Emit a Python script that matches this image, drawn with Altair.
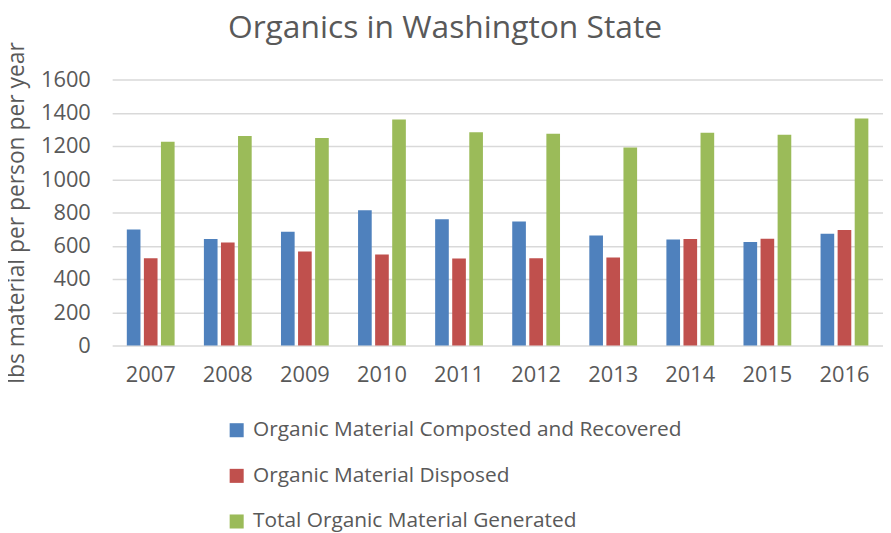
import altair as alt
import pandas as pd

years = ["2007", "2008", "2009", "2010", "2011", "2012", "2013", "2014", "2015", "2016"]
series = ["Organic Material Composted and Recovered", "Organic Material Disposed", "Total Organic Material Generated"]
composted = [698, 640, 684, 813, 759, 746, 662, 638, 622, 672]
disposed = [525, 620, 565, 547, 523, 525, 529, 640, 642, 694]
generated = [1225, 1260, 1248, 1360, 1282, 1274, 1191, 1280, 1268, 1366]
colors = ["#4F81BD", "#C0504D", "#9BBB59"]

rows = []
for i, y in enumerate(years):
    for s, vals in zip(series, [composted, disposed, generated]):
        rows.append({"year": y, "series": s, "value": vals[i]})
df = pd.DataFrame(rows)

FONT = "Open Sans"
GREY = "#595959"

chart = alt.Chart(df).mark_bar().encode(
    x=alt.X("year:N", sort=years,
            scale=alt.Scale(paddingInner=0.38, paddingOuter=0.19),
            axis=alt.Axis(title=None, labelAngle=0, labelFontSize=22, labelColor=GREY,
                          labelFont=FONT, ticks=False, domain=False, labelPadding=19)),
    xOffset=alt.XOffset("series:N", sort=series, scale=alt.Scale(paddingInner=0.2)),
    y=alt.Y("value:Q", scale=alt.Scale(domain=[0, 1600]),
            axis=alt.Axis(values=list(range(0, 1601, 200)), format="d",
                          title="lbs material per person per year",
                          titleFont=FONT, titleFontSize=23, titleFontWeight="normal", titleColor=GREY,
                          titlePadding=12, labelFont=FONT, labelFontSize=22, labelColor=GREY,
                          ticks=False, domain=False, labelPadding=22,
                          gridColor="#D9D9D9", gridWidth=1.5)),
    color=alt.Color("series:N", sort=series, scale=alt.Scale(domain=series, range=colors),
                    legend=alt.Legend(title=None, orient="none", legendX=115, legendY=343,
                                      direction="vertical", symbolType="square", symbolSize=200,
                                      symbolStrokeWidth=0, labelFont=FONT, labelFontSize=21,
                                      labelColor=GREY, rowPadding=24, labelLimit=600,
                                      labelOffset=6)),
).properties(
    width=777, height=268,
    autosize="none",
    padding={"left": 105, "top": 70, "right": 0, "bottom": 187},
    title=alt.TitleParams("Organics in Washington State", font=FONT, fontSize=32,
                          fontWeight="normal", color=GREY, anchor="middle", dx=-53, dy=17,
                          offset=14),
).configure_view(stroke=None)

chart.save("out.html", embed_options={"renderer": "svg", "actions": False})
